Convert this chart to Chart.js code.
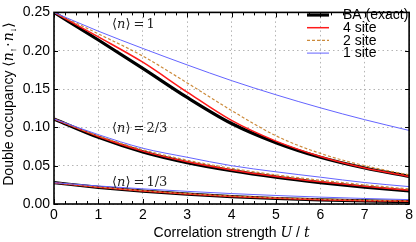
<!DOCTYPE html>
<html><head><meta charset="utf-8">
<style>html,body{margin:0;padding:0;background:#fff;}#wrap{width:416px;height:242px;}</style>
<script src="https://cdn.jsdelivr.net/npm/chart.js@4/dist/chart.umd.min.js"></script>
</head><body><div id="wrap"><canvas id="c" width="416" height="242"></canvas></div>
<script>
// ---- data ----
const U = [0,1,2,3,4,5,6,7,8];

// <n> = 1
const ba_n1    = [0.25,0.214,0.177,0.139,0.105,0.080,0.061,0.047,0.036];
const site4_n1 = [0.25,0.218,0.185,0.146,0.109,0.082,0.062,0.047,0.036];
const site2_n1 = [0.25,0.222,0.193,0.158,0.122,0.089,0.066,0.050,0.038];
const site1_n1 = [0.25,0.2255,0.203,0.1815,0.161,0.1425,0.1255,0.110,0.096];
// <n> = 2/3
const ba_n23    = [0.111,0.087,0.068,0.054,0.0435,0.035,0.028,0.022,0.017];
const site4_n23 = [0.111,0.088,0.069,0.055,0.0445,0.036,0.029,0.023,0.0178];
const site2_n23 = [0.111,0.089,0.0708,0.0572,0.0465,0.038,0.031,0.025,0.0196];
const site1_n23 = [0.111,0.0905,0.0728,0.061,0.050,0.042,0.035,0.028,0.0227];
// <n> = 1/3
const ba_n13    = [0.0278,0.0218,0.0168,0.0128,0.0096,0.0072,0.0054,0.0041,0.0032];
const site4_n13 = [0.0278,0.022,0.0171,0.0131,0.0099,0.0075,0.0057,0.0044,0.0035];
const site2_n13 = [0.0278,0.0222,0.0174,0.0135,0.0104,0.0080,0.0062,0.0049,0.0039];
const site1_n13 = [0.0278,0.0235,0.0198,0.0165,0.0136,0.0111,0.0090,0.0072,0.0057];

const xTickValues = [0,1,2,3,4,5,6,7,8];
const yTickValues = [0,0.05,0.10,0.15,0.20,0.25];
const methodLabels = ['BA (exact)','4 site','2 site','1 site'];
const fillingLabels = ['1','2/3','1/3'];

// ---- styles ----
const styles = [
  {color:'#000000', width:3.2, dash:[]},
  {color:'#ff1a1a', width:1.5, dash:[]},
  {color:'#cc8a3a', width:1.2, dash:[3,2]},
  {color:'#6464ff', width:1.0, dash:[]}
];
const SANS = '"Liberation Sans", Arial, sans-serif';
const SERIF = '"DejaVu Serif", "Liberation Serif", serif';

const pts = (xs, ys) => xs.map((x,i)=>({x:x, y:ys[i]}));
const groups = [
  [ba_n1, site4_n1, site2_n1, site1_n1],
  [ba_n23, site4_n23, site2_n23, site1_n23],
  [ba_n13, site4_n13, site2_n13, site1_n13]
];
const datasets = [];
groups.forEach((g,gi)=>{
  g.forEach((s,mi)=>{
    const st = styles[mi];
    datasets.push({
      label: methodLabels[mi] + ' n=' + fillingLabels[gi],
      data: pts(U, s),
      borderColor: st.color, borderWidth: st.width, borderDash: st.dash,
      pointRadius: 0, fill:false, cubicInterpolationMode:'monotone',
      order: 3 - mi
    });
  });
});

function drawRich(ctx, segs, x, y, align) {
  let total = 0;
  segs.forEach(s=>{ctx.font = s.font; s.w = ctx.measureText(s.t).width + (s.sp||0); total += s.w;});
  let cx = align === 'center' ? x - total/2 : (align === 'right' ? x - total : x);
  ctx.textBaseline = 'alphabetic'; ctx.textAlign = 'left';
  segs.forEach(s=>{ctx.font = s.font; ctx.fillText(s.t, cx, y + (s.dy||0)); cx += s.w;});
}

const decor = {
  id:'decor',
  afterDraw(chart){
    const ctx = chart.ctx, a = chart.chartArea;
    const xs = chart.scales.x, ys = chart.scales.y;
    ctx.save();
    // frame
    ctx.strokeStyle = '#000'; ctx.lineWidth = 1.6; ctx.setLineDash([]);
    ctx.strokeRect(a.left, a.top, a.right - a.left, a.bottom - a.top);
    // ticks (inward)
    ctx.lineWidth = 1;
    ctx.beginPath();
    for (let v = 0; v <= 8.0001; v += 0.25) {
      const px = Math.round(xs.getPixelForValue(v)) + 0.5;
      const L = Math.abs(v - Math.round(v)) < 1e-6 ? 5 : 3;
      ctx.moveTo(px, a.bottom); ctx.lineTo(px, a.bottom - L);
      ctx.moveTo(px, a.top); ctx.lineTo(px, a.top + L);
    }
    yTickValues.forEach(v=>{
      const py = Math.round(ys.getPixelForValue(v)) + 0.5;
      ctx.moveTo(a.left, py); ctx.lineTo(a.left + 4, py);
      ctx.moveTo(a.right, py); ctx.lineTo(a.right - 4, py);
    });
    ctx.stroke();

    // legend
    const lx0 = 307, lx1 = 329, tx = 343;
    const rowY = [15, 27.7, 40.4, 53.1];
    methodLabels.forEach((lab,i)=>{
      const st = styles[i];
      ctx.strokeStyle = st.color; ctx.lineWidth = st.width; ctx.setLineDash(st.dash);
      ctx.beginPath(); ctx.moveTo(lx0, rowY[i]); ctx.lineTo(lx1, rowY[i]); ctx.stroke();
      ctx.setLineDash([]);
      ctx.fillStyle = '#000'; ctx.font = '14px ' + SANS;
      ctx.textAlign = 'left'; ctx.textBaseline = 'middle';
      ctx.fillText(lab, tx, rowY[i] + 0.5);
    });

    // filling annotations
    ctx.fillStyle = '#222';
    const annY = [28, 132, 186];
    fillingLabels.forEach((f,i)=>{
      drawRich(ctx, [
        {t:'\u27E8', font:'13px ' + SERIF},
        {t:'n', font:'italic 13px ' + SERIF},
        {t:'\u27E9', font:'13px ' + SERIF, sp:3},
        {t:'=', font:'13px ' + SERIF, sp:2},
        {t:f, font:'13px ' + SERIF}
      ], 112, annY[i], 'left');
    });

    // x title
    ctx.fillStyle = '#000';
    drawRich(ctx, [
      {t:'Correlation strength ', font:'14px ' + SANS},
      {t:'U', font:'italic 14px ' + SERIF},
      {t:' / ', font:'14px ' + SANS},
      {t:'t', font:'italic 14px ' + SERIF}
    ], (a.left + a.right)/2, 237, 'center');

    // y title (rotated)
    ctx.save();
    ctx.translate(13, 104);
    ctx.rotate(-Math.PI/2);
    drawRich(ctx, [
      {t:'Double occupancy ', font:'14px ' + SANS},
      {t:'\u27E8', font:'14px ' + SERIF},
      {t:'n', font:'italic 14px ' + SERIF},
      {t:'\u2191', font:'9px ' + SANS, dy:3, sp:1},
      {t:'\u00B7', font:'14px ' + SERIF, sp:1},
      {t:'n', font:'italic 14px ' + SERIF},
      {t:'\u2193', font:'9px ' + SANS, dy:3},
      {t:'\u27E9', font:'14px ' + SERIF}
    ], 0, 0, 'center');
    ctx.restore();
    ctx.restore();
  }
};

new Chart(document.getElementById('c'), {
  type:'line',
  data:{datasets:datasets},
  options:{
    responsive:false, animation:false, devicePixelRatio:1,
    layout:{padding:{top:6, right:4, left:0, bottom:0}},
    plugins:{legend:{display:false}, tooltip:{enabled:false}},
    scales:{
      x:{type:'linear', min:0, max:8,
        afterBuildTicks: s => { s.ticks = xTickValues.map(v=>({value:v})); },
        afterFit: s => { s.height = 38; },
        ticks:{font:{family:SANS, size:14}, color:'#000', padding:3, maxRotation:0, callback:v=>String(v)},
        grid:{color:'#b4b4b4', lineWidth:1, drawTicks:false},
        border:{display:false, dash:[1.5,3]}
      },
      y:{type:'linear', min:0, max:0.25,
        afterBuildTicks: s => { s.ticks = yTickValues.map(v=>({value:v})); },
        afterFit: s => { s.width = 54; },
        ticks:{font:{family:SANS, size:14}, color:'#000', padding:4, callback:v=>Number(v).toFixed(2)},
        grid:{color:'#b4b4b4', lineWidth:1, drawTicks:false},
        border:{display:false, dash:[1.5,3]}
      }
    }
  },
  plugins:[decor]
});
</script>
</body></html>
